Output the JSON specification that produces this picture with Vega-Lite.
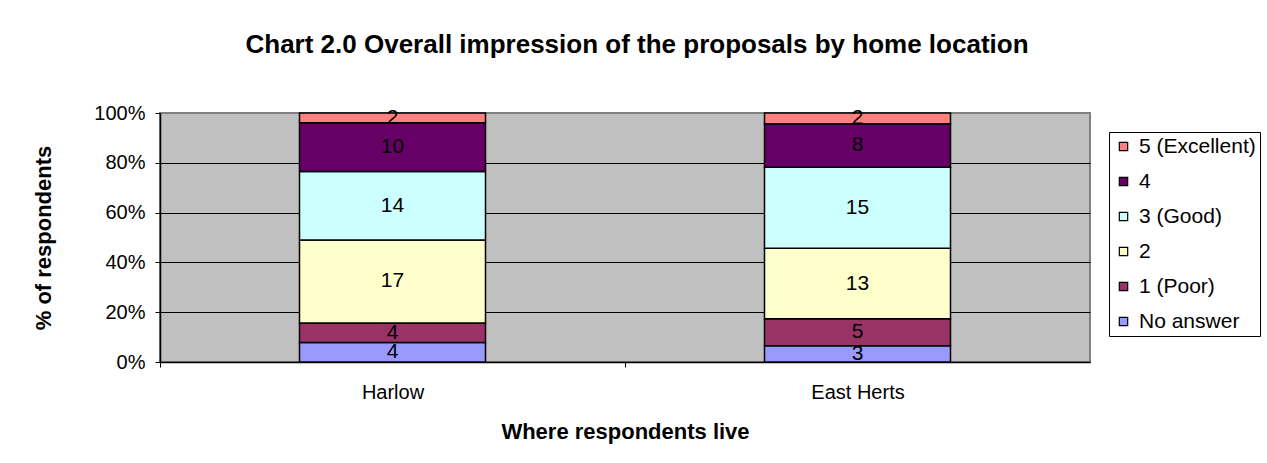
{
  "$schema": "https://vega.github.io/schema/vega-lite/v6.json",
  "width": 930,
  "height": 249,
  "autosize": {"type": "none"},
  "padding": {"left": 160, "top": 113, "right": 177, "bottom": 101},
  "background": "white",
  "title": {
    "text": "Chart 2.0 Overall impression of the proposals by home location",
    "fontSize": 26,
    "fontWeight": "bold",
    "font": "Liberation Sans",
    "color": "black",
    "anchor": "middle",
    "frame": "group",
    "offset": 45,
    "dx": 12
  },
  "data": {
    "values": [
      {"location": "Harlow", "rating": "No answer", "order": 1, "count": 4},
      {"location": "Harlow", "rating": "1 (Poor)", "order": 2, "count": 4},
      {"location": "Harlow", "rating": "2", "order": 3, "count": 17},
      {"location": "Harlow", "rating": "3 (Good)", "order": 4, "count": 14},
      {"location": "Harlow", "rating": "4", "order": 5, "count": 10},
      {"location": "Harlow", "rating": "5 (Excellent)", "order": 6, "count": 2},
      {"location": "East Herts", "rating": "No answer", "order": 1, "count": 3},
      {"location": "East Herts", "rating": "1 (Poor)", "order": 2, "count": 5},
      {"location": "East Herts", "rating": "2", "order": 3, "count": 13},
      {"location": "East Herts", "rating": "3 (Good)", "order": 4, "count": 15},
      {"location": "East Herts", "rating": "4", "order": 5, "count": 8},
      {"location": "East Herts", "rating": "5 (Excellent)", "order": 6, "count": 2}
    ]
  },
  "transform": [
    {"stack": "count", "groupby": ["location"], "sort": [{"field": "order", "order": "ascending"}], "offset": "normalize", "as": ["y0", "y1"]},
    {"calculate": "(datum.y0 + datum.y1) / 2", "as": "ymid"}
  ],
  "encoding": {
    "x": {
      "field": "location",
      "type": "nominal",
      "sort": ["Harlow", "East Herts"],
      "title": "Where respondents live",
      "scale": {"paddingInner": 0.6, "paddingOuter": 0.3},
      "axis": {
        "labelFontSize": 20,
        "labelColor": "black",
        "labelAngle": 0,
        "labelPadding": 15,
        "tickSize": 5,
        "tickColor": "black",
        "tickOffset": -233,
        "labelOffset": 233,
        "domainColor": "black",
        "domainWidth": 1.5,
        "titleFontSize": 22,
        "titleFontWeight": "bold",
        "titleColor": "black",
        "titlePadding": 19
      }
    }
  },
  "layer": [
    {
      "mark": {"type": "bar", "stroke": "black", "strokeWidth": 1.5},
      "encoding": {
        "y": {
          "field": "y0",
          "type": "quantitative",
          "title": "% of respondents",
          "scale": {"domain": [0, 1], "nice": false},
          "axis": {
            "values": [0, 0.2, 0.4, 0.6, 0.8, 1],
            "format": ".0%",
            "labelFontSize": 20,
            "labelColor": "black",
            "labelPadding": 10,
            "tickSize": 5,
            "tickColor": "black",
            "domainColor": "black",
            "domainWidth": 1.5,
            "grid": true,
            "gridColor": {"condition": {"test": "datum.value >= 1", "value": "#808080"}, "value": "black"},
            "gridWidth": 1,
            "titleFontSize": 22,
            "titleFontWeight": "bold",
            "titleColor": "black",
            "titlePadding": 38
          }
        },
        "y2": {"field": "y1"},
        "color": {
          "field": "rating",
          "type": "nominal",
          "scale": {
            "domain": ["5 (Excellent)", "4", "3 (Good)", "2", "1 (Poor)", "No answer"],
            "range": ["#FF8080", "#660066", "#CCFFFF", "#FFFFCC", "#993366", "#9999FF"]
          },
          "legend": {
            "orient": "none",
            "legendX": 949,
            "legendY": 19,
            "title": null,
            "labelFontSize": 21,
            "labelColor": "black",
            "labelOffset": 5,
            "symbolType": "square",
            "symbolSize": 70,
            "symbolStrokeColor": "black",
            "symbolStrokeWidth": 1.2,
            "rowPadding": 13,
            "padding": 4,
            "strokeColor": "black",
            "fillColor": "white"
          }
        }
      }
    },
    {
      "mark": {"type": "text", "fontSize": 21, "baseline": "middle", "color": "black"},
      "encoding": {
        "y": {"field": "ymid", "type": "quantitative", "title": "% of respondents"},
        "text": {"field": "count", "type": "quantitative"}
      }
    }
  ],
  "config": {
    "font": "Liberation Sans",
    "view": {"fill": "#C0C0C0", "stroke": "#808080", "strokeWidth": 2}
  }
}
